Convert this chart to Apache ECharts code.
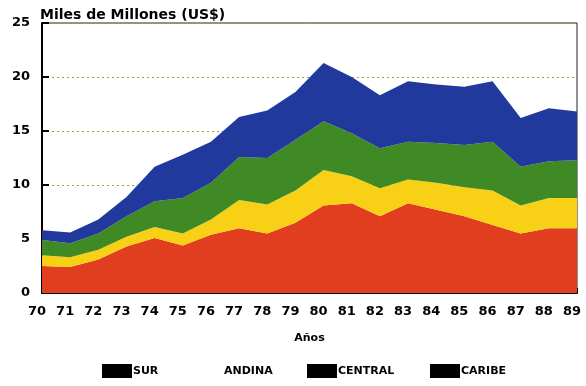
<!DOCTYPE html>
<html>
<head>
<meta charset="utf-8">
<script src="https://cdn.jsdelivr.net/npm/echarts@6/dist/echarts.min.js"></script>
<style>html,body{margin:0;padding:0;background:#fff;}#c{width:586px;height:386px;}</style>
</head>
<body>
<div id="c"></div>
<script>
const years = ['70','71','72','73','74','75','76','77','78','79','80','81','82','83','84','85','86','87','88','89'];
const sur     = [2.5,2.4,3.1,4.3,5.1,4.4,5.4,6.0,5.5,6.5,8.1,8.3,7.1,8.3,7.7,7.1,6.3,5.5,6.0,6.0];
const andina  = [1.0,0.9,0.9,0.9,1.0,1.1,1.4,2.6,2.7,3.0,3.3,2.5,2.6,2.2,2.5,2.7,3.2,2.6,2.8,2.8];
const central = [1.4,1.3,1.5,1.9,2.4,3.3,3.4,4.0,4.3,4.7,4.5,4.0,3.7,3.5,3.7,3.9,4.5,3.6,3.4,3.5];
const caribe  = [0.9,1.0,1.3,1.8,3.2,4.0,3.8,3.7,4.4,4.4,5.4,5.2,4.9,5.6,5.4,5.4,5.6,4.5,4.9,4.5];
const yTicks = [0,5,10,15,20,25];

const names = ['SUR','ANDINA','CENTRAL','CARIBE'];
const colors = ['#e13d1f','#f8d116','#3f8a24','#21389c'];
const values = [sur, andina, central, caribe];
const FONT = 'DejaVu Sans';

const chart = echarts.init(document.getElementById('c'), null, {renderer:'canvas'});

function leg(name, left, visibleIcon){
  return {
    data: [{name: name, itemStyle: {color: visibleIcon ? '#000' : 'rgba(0,0,0,0)'}}],
    left: left, top: 359, icon: 'rect', itemWidth: 30, itemHeight: 14, itemGap: 0,
    selectedMode: false,
    textStyle: {fontFamily: FONT, fontWeight: 'bold', fontSize: 11, color: '#000', padding: [12,0,0,-4]}
  };
}

chart.setOption({
  animation: false,
  backgroundColor: '#fff',
  title: {
    text: 'Miles de Millones (US$)', left: 35, top: 3,
    textStyle: {fontFamily: FONT, fontWeight: 'bold', fontSize: 14, color: '#000'}
  },
  legend: [leg('SUR', 97, true), leg('ANDINA', 188, false), leg('CENTRAL', 302, true), leg('CARIBE', 425, true)],
  grid: {left: 42, right: 9, top: 23, bottom: 93, show: true, borderColor: '#222', borderWidth: 1, backgroundColor: 'transparent'},
  xAxis: {
    type: 'category', data: years, boundaryGap: false,
    name: 'Años', nameLocation: 'middle', nameGap: 40,
    nameTextStyle: {fontFamily: FONT, fontWeight: 'bold', fontSize: 11, color: '#000'},
    axisLine: {lineStyle: {color: '#000', width: 2}},
    axisTick: {inside: true, length: 5, lineStyle: {color: '#000', width: 2}},
    axisLabel: {fontFamily: FONT, fontWeight: 'bold', fontSize: 13, color: '#000', margin: 12, padding: [0,10,0,0]},
    splitLine: {show: false}
  },
  yAxis: {
    type: 'value', min: 0, max: 25, interval: 5,
    axisLine: {show: true, lineStyle: {color: '#000', width: 2}},
    axisTick: {show: true, inside: true, length: 7, lineStyle: {color: '#000', width: 2}},
    axisLabel: {fontFamily: FONT, fontWeight: 'bold', fontSize: 13, color: '#000', margin: 12, padding: [6,0,0,0],
      formatter: v => yTicks.includes(v) ? String(v) : ''},
    splitLine: {show: true, lineStyle: {color: '#a89a3a', type: [2,3], width: 1}}
  },
  series: names.map((n, i) => ({
    name: n, type: 'line', stack: 'total', data: values[i],
    symbol: 'none', smooth: false,
    lineStyle: {width: 0, color: colors[i]},
    itemStyle: {color: colors[i]},
    areaStyle: {color: colors[i], opacity: 1}
  }))
});
</script>
</body>
</html>
